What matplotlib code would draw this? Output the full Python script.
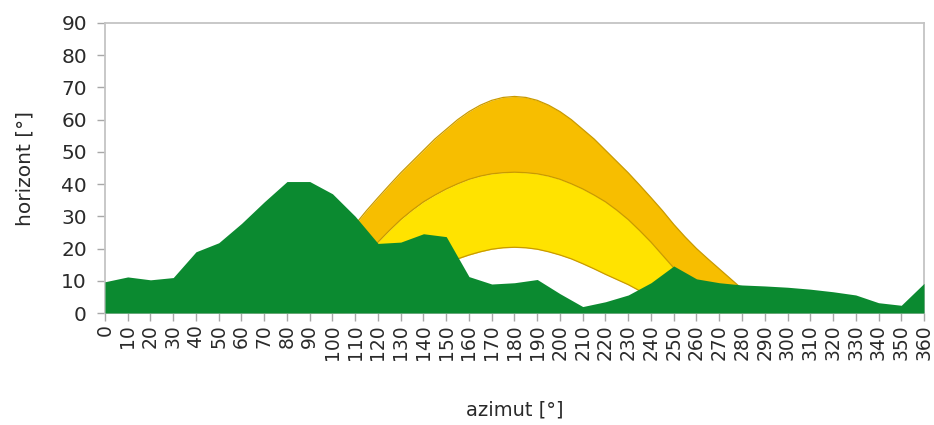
import numpy as np
import matplotlib
matplotlib.use("Agg")
import matplotlib.pyplot as plt

# Horizon profile (green), azimuth every 10 degrees
azimuth = list(range(0, 361, 10))
horizon = [9.7, 11.2, 10.3, 11.0, 19.0, 21.8, 27.8, 34.5, 40.8, 40.8,
           37.0, 30.0, 21.6, 22.0, 24.6, 23.7, 11.3, 9.0, 9.4, 10.4,
           6.0, 2.0, 3.5, 5.6, 9.4, 14.6, 10.6, 9.4, 8.7, 8.4,
           8.0, 7.4, 6.6, 5.6, 3.2, 2.4, 9.2]

# Sun paths (summer solstice, equinox, winter solstice), azimuth every 5 degrees
sun_az = list(range(65, 296, 5))
summer = [0, 1.5, 4.5, 7.5, 10.6, 13.7, 16.8, 20, 23.6, 27.5, 31.8, 35.8,
          39.7, 43.5, 47, 50.5, 54, 57, 60, 62.5, 64.5, 66, 66.9, 67.2,
          66.9, 66, 64.5, 62.5, 60, 57, 54, 50.5, 47, 43.5, 39.7, 35.8,
          31.8, 27.5, 23.6, 20, 16.8, 13.7, 10.6, 7.5, 4.5, 1.5, 0]
equinox = [0, 0, 0, 0, 0, 0, 3.2, 6.5, 10.2, 14, 18, 22,
           25.6, 29, 31.9, 34.5, 36.6, 38.5, 40.1, 41.5, 42.5, 43.2, 43.55, 43.7,
           43.55, 43.2, 42.5, 41.5, 40.1, 38.5, 36.6, 34.5, 31.9, 29, 25.6, 22,
           18, 14, 10.2, 6.5, 3.2, 0, 0, 0, 0, 0, 0]
winter = [0, 0, 0, 0, 0, 0, 0, 0, 0, 1, 3, 5,
          6.9, 8.8, 10.4, 12, 13.7, 15.3, 16.8, 18, 19, 19.8, 20.25, 20.4,
          20.25, 19.8, 19, 18, 16.8, 15.3, 13.7, 12, 10.4, 8.8, 6.9, 5,
          3, 1, 0, 0, 0, 0, 0, 0, 0, 0, 0]

y_ticks = list(range(0, 91, 10))
x_ticks = list(range(0, 361, 10))

plt.rcParams['font.family'] = ['DejaVu Sans']
text_col = '#2a2a2a'

fig = plt.figure(figsize=(9.34, 4.25), dpi=100)
ax = fig.add_axes([0.1124, 0.2635, 0.8769, 0.6824])

ax.fill_between(sun_az, equinox, summer, color='#F7BE00', lw=0, zorder=1)
ax.fill_between(sun_az, winter, equinox, color='#FFE300', lw=0, zorder=1)
for curve in (summer, equinox, winter):
    ax.plot(sun_az, curve, color='#C99A00', lw=0.9, zorder=2)

ax.fill_between(azimuth, 0, horizon, color='#0B8A30', lw=0, zorder=3)

ax.set_xlim(0, 360)
ax.set_ylim(0, 90)
ax.set_xticks(x_ticks)
ax.set_xticklabels([str(v) for v in x_ticks], rotation=90, fontsize=13.5,
                   color=text_col)
ax.set_yticks(y_ticks)
ax.set_yticklabels([str(v) for v in y_ticks], fontsize=14.5, color=text_col)
ax.tick_params(axis='x', length=6, width=1, color='#a8a8a8', pad=2)
ax.tick_params(axis='y', length=6, width=1, color='#a8a8a8', pad=7)

for s in ax.spines.values():
    s.set_color('#c4c4c4')
    s.set_linewidth(1.3)

ax.set_xlabel('azimut [°]', fontsize=14, color=text_col, labelpad=29)
ax.set_ylabel('horizont [°]', fontsize=14.5, color=text_col, labelpad=19)

fig.savefig('out.png', dpi=100)
